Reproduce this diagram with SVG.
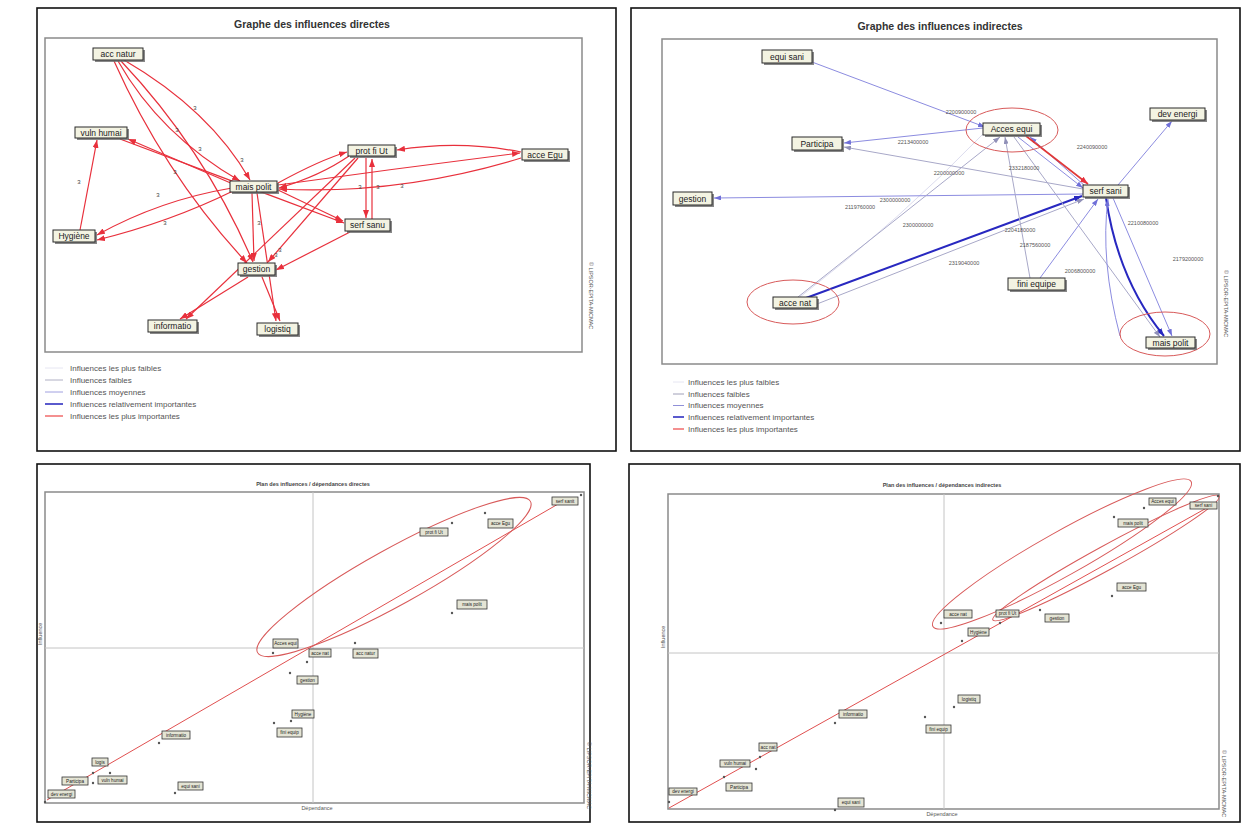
<svg xmlns="http://www.w3.org/2000/svg" width="1245" height="828" viewBox="0 0 1245 828">
<style>
.panel{fill:#fff;stroke:#111;stroke-width:1.6}
.frame{fill:none;stroke:#8a8a8a;stroke-width:1.5}
.title{font-family:"Liberation Sans",Arial,sans-serif;font-weight:bold;font-size:10.5px;fill:#333;text-anchor:middle}
.stitle{font-family:"Liberation Sans",Arial,sans-serif;font-weight:bold;font-size:5.5px;fill:#444;text-anchor:middle}
.nshadow{fill:#6a6a6a;opacity:.8}
.nbox{fill:#f3f3e2;stroke:#2a2a2a;stroke-width:1}
.ntext{font-family:"Liberation Sans",Arial,sans-serif;font-size:8.5px;fill:#222;text-anchor:middle;dominant-baseline:central}
.sbox{fill:#e4e4d4;stroke:#333;stroke-width:.8}
.stext{font-family:"Liberation Sans",Arial,sans-serif;font-size:4.6px;fill:#222;text-anchor:middle;dominant-baseline:central}
.leg{font-family:"Liberation Sans",Arial,sans-serif;font-size:8px;fill:#555;dominant-baseline:central}
.elab{font-family:"Liberation Sans",Arial,sans-serif;font-size:6px;fill:#444;text-anchor:middle;dominant-baseline:central}
.nlab{font-family:"Liberation Sans",Arial,sans-serif;font-size:5.5px;fill:#555;text-anchor:middle;dominant-baseline:central}
.vtext{font-family:"Liberation Sans",Arial,sans-serif;font-size:5.5px;fill:#555}
.red{fill:none;stroke:#e8303c;stroke-width:1.2;marker-end:url(#mRed)}
.b1{fill:none;stroke:#dcdcee;stroke-width:1}
.b2{fill:none;stroke:#a8a8c8;stroke-width:1;marker-end:url(#mGray)}
.b3{fill:none;stroke:#8c8ce0;stroke-width:1;marker-end:url(#mPur)}
.b4{fill:none;stroke:#2828c0;stroke-width:2;marker-end:url(#mBlue)}
.b5{fill:none;stroke:#e03838;stroke-width:1.6;marker-end:url(#mRed)}
.ell{fill:none;stroke:#d85a5a;stroke-width:1}
.cross{stroke:#c4c4c4;stroke-width:1}
.reg{stroke:#e05050;stroke-width:1;fill:none}
.pt{fill:#555}
</style>
<defs>
<marker id="mRed" markerWidth="8" markerHeight="6" refX="8" refY="3" orient="auto" markerUnits="userSpaceOnUse"><path d="M0,0 L8,3 L0,6 z" fill="#e8303c"/></marker>
<marker id="mBlue" markerWidth="8" markerHeight="6" refX="8" refY="3" orient="auto" markerUnits="userSpaceOnUse"><path d="M0,0 L8,3 L0,6 z" fill="#2828c0"/></marker>
<marker id="mPur" markerWidth="7" markerHeight="5" refX="7" refY="2.5" orient="auto" markerUnits="userSpaceOnUse"><path d="M0,0 L7,2.5 L0,5 z" fill="#7070d8"/></marker>
<marker id="mGray" markerWidth="7" markerHeight="5" refX="7" refY="2.5" orient="auto" markerUnits="userSpaceOnUse"><path d="M0,0 L7,2.5 L0,5 z" fill="#9090b8"/></marker>
</defs>

<!-- ============ PANEL 1 : direct graph ============ -->
<g id="panel-direct">
<rect class="panel" x="37" y="8" width="579" height="443"/>
<text class="title" x="312" y="28">Graphe des influences directes</text>
<rect class="frame" x="45" y="38" width="537" height="314"/>
<text class="vtext" transform="translate(589,262) rotate(90)">© LIPSOR-EPITA-MICMAC</text>
</g>

<g id="connectors-direct">
<path class="red" d="M118,61 Q160,135 240,181"/>
<path class="red" d="M124,60 Q210,110 250,180"/>
<path class="red" d="M114,61 Q165,175 247,263"/>
<path class="red" d="M121,61 Q205,150 253,262"/>
<path class="red" d="M233,184 L128,139"/>
<path class="red" d="M120,139 L344,223"/>
<path class="red" d="M80,230 L97,140"/>
<path class="red" d="M232,188 Q160,200 97,235"/>
<path class="red" d="M233,191 Q170,222 97,240"/>
<path class="red" d="M278,185 Q400,168 520,153"/>
<path class="red" d="M521,158 Q400,195 279,189"/>
<path class="red" d="M278,183 Q320,160 347,152"/>
<path class="red" d="M349,156 Q320,176 279,188"/>
<path class="red" d="M366,158 L366,218"/>
<path class="red" d="M372,219 L372,159"/>
<path class="red" d="M278,190 L343,221"/>
<path class="red" d="M252,193 L254,261"/>
<path class="red" d="M257,193 L276,321"/>
<path class="red" d="M262,277 L280,321"/>
<path class="red" d="M248,277 L180,319"/>
<path class="red" d="M355,158 L186,319"/>
<path class="red" d="M358,158 L268,262"/>
<path class="red" d="M350,232 L276,270"/>
<path class="red" d="M521,152 Q460,140 397,150"/>
<text class="elab" x="195" y="108">3</text>
<text class="elab" x="242" y="160">3</text>
<text class="elab" x="177" y="130">3</text>
<text class="elab" x="200" y="149">3</text>
<text class="elab" x="175" y="172">3</text>
<text class="elab" x="79" y="182">3</text>
<text class="elab" x="158" y="195">3</text>
<text class="elab" x="165" y="223">3</text>
<text class="elab" x="402" y="186">3</text>
<text class="elab" x="360" y="187">3</text>
<text class="elab" x="378" y="187">3</text>
<text class="elab" x="259" y="223">3</text>
<text class="elab" x="276" y="255">3</text>
<text class="elab" x="280" y="250">3</text>
</g>

<g id="n-acc-natur"><rect class="nshadow" x="95" y="50" width="50" height="12"/><rect class="nbox" x="93" y="48" width="50" height="12"/><text class="ntext" x="118" y="54">acc natur</text></g>
<g id="n-vuln-humai"><rect class="nshadow" x="77" y="129" width="52" height="11"/><rect class="nbox" x="75" y="127" width="52" height="11"/><text class="ntext" x="101" y="132.5">vuln humai</text></g>
<g id="n-mais-polit"><rect class="nshadow" x="232" y="183" width="47" height="11"/><rect class="nbox" x="230" y="181" width="47" height="11"/><text class="ntext" x="253.5" y="186.5">mais polit</text></g>
<g id="n-hygiene"><rect class="nshadow" x="55" y="232" width="42" height="12"/><rect class="nbox" x="53" y="230" width="42" height="12"/><text class="ntext" x="74" y="236">Hygiène</text></g>
<g id="n-gestion"><rect class="nshadow" x="240" y="265" width="37" height="12"/><rect class="nbox" x="238" y="263" width="37" height="12"/><text class="ntext" x="256.5" y="269">gestion</text></g>
<g id="n-informatio"><rect class="nshadow" x="150" y="322" width="49" height="12"/><rect class="nbox" x="148" y="320" width="49" height="12"/><text class="ntext" x="172.5" y="326">informatio</text></g>
<g id="n-logistiq"><rect class="nshadow" x="259" y="325" width="41" height="12"/><rect class="nbox" x="257" y="323" width="41" height="12"/><text class="ntext" x="277.5" y="329">logistiq</text></g>
<g id="n-prot-fi"><rect class="nshadow" x="350" y="147" width="47" height="11"/><rect class="nbox" x="348" y="145" width="47" height="11"/><text class="ntext" x="371.5" y="150.5">prot fi Ut</text></g>
<g id="n-acce-egu"><rect class="nshadow" x="524" y="151" width="46" height="11"/><rect class="nbox" x="522" y="149" width="46" height="11"/><text class="ntext" x="545" y="154.5">acce Egu</text></g>
<g id="n-serf-sanu"><rect class="nshadow" x="347" y="221" width="45" height="12"/><rect class="nbox" x="345" y="219" width="45" height="12"/><text class="ntext" x="367.5" y="225">serf sanu</text></g>

<g id="legend-direct">
<line x1="45" y1="368" x2="63" y2="368" stroke="#e6e6f2" stroke-width="1"/>
<line x1="45" y1="380" x2="63" y2="380" stroke="#b0b0c4" stroke-width="1"/>
<line x1="45" y1="392" x2="63" y2="392" stroke="#a0a0e0" stroke-width="1"/>
<line x1="45" y1="404" x2="63" y2="404" stroke="#3030c0" stroke-width="1.6"/>
<line x1="45" y1="416" x2="63" y2="416" stroke="#f06060" stroke-width="1.4"/>
<text class="leg" x="70" y="368">Influences les plus faibles</text>
<text class="leg" x="70" y="380">Influences faibles</text>
<text class="leg" x="70" y="392">Influences moyennes</text>
<text class="leg" x="70" y="404">Influences relativement importantes</text>
<text class="leg" x="70" y="416">Influences les plus importantes</text>
</g>

<!-- ============ PANEL 2 : indirect graph ============ -->
<g id="panel-indirect">
<rect class="panel" x="631" y="8" width="609" height="443"/>
<text class="title" x="940" y="30">Graphe des influences indirectes</text>
<rect class="frame" x="662" y="39" width="555" height="325"/>
<text class="vtext" transform="translate(1224,270) rotate(90)">© LIPSOR-EPITA-MICMAC</text>
</g>

<g id="connectors-indirect">
<path class="b1" d="M800,297 Q900,220 985,132"/>
<path class="b3" d="M812,62 L985,127"/>
<path class="b3" d="M983,128 L844,143"/>
<path class="b2" d="M1083,189 L844,147"/>
<path class="b3" d="M1083,194 L714,198"/>
<path class="b4" d="M806,298 Q950,245 1082,196"/>
<path class="b2" d="M798,297 L1000,137"/>
<path class="b2" d="M817,304 L1084,199"/>
<path class="b3" d="M1085,186 L1030,137"/>
<path class="b5" d="M1026,136 L1088,184"/>
<path class="b3" d="M1018,137 L1083,188"/>
<path class="b4" d="M1106,198 Q1118,280 1164,336"/>
<path class="b3" d="M1113,198 L1172,336"/>
<path class="b2" d="M1014,137 L1160,337"/>
<path class="b3" d="M1118,185 L1172,121"/>
<path class="b3" d="M1040,278 L1098,199"/>
<path class="b2" d="M1030,278 L1005,137"/>
<path class="b3" d="M1120,336 Q1100,260 1108,199"/>
<text class="nlab" x="961" y="112">2200900000</text>
<text class="nlab" x="913" y="142">2213400000</text>
<text class="nlab" x="949" y="173">2200000000</text>
<text class="nlab" x="1092" y="147">2240090000</text>
<text class="nlab" x="1024" y="168">2332180000</text>
<text class="nlab" x="895" y="200">2300000000</text>
<text class="nlab" x="860" y="207">2119760000</text>
<text class="nlab" x="918" y="225">2300000000</text>
<text class="nlab" x="1020" y="230">2204180000</text>
<text class="nlab" x="1035" y="245">2187560000</text>
<text class="nlab" x="964" y="263">2319040000</text>
<text class="nlab" x="1080" y="271">2006800000</text>
<text class="nlab" x="1143" y="223">2210080000</text>
<text class="nlab" x="1188" y="259">2179200000</text>
<ellipse class="ell" cx="1012" cy="130" rx="46" ry="22"/>
<ellipse class="ell" cx="793" cy="302" rx="46" ry="22"/>
<ellipse class="ell" cx="1165" cy="334" rx="45" ry="22"/>
</g>

<g id="n-equi-sani"><rect class="nshadow" x="764" y="52" width="50" height="13"/><rect class="nbox" x="762" y="50" width="50" height="13"/><text class="ntext" x="787" y="56.5">equi sani</text></g>
<g id="n-participa"><rect class="nshadow" x="794" y="139" width="50" height="13"/><rect class="nbox" x="792" y="137" width="50" height="13"/><text class="ntext" x="817" y="143.5">Participa</text></g>
<g id="n-gestion2"><rect class="nshadow" x="675" y="194" width="39" height="13"/><rect class="nbox" x="673" y="192" width="39" height="13"/><text class="ntext" x="692.5" y="198.5">gestion</text></g>
<g id="n-acces-equi"><rect class="nshadow" x="985" y="125" width="57" height="12"/><rect class="nbox" x="983" y="123" width="57" height="12"/><text class="ntext" x="1011.5" y="129">Acces equi</text></g>
<g id="n-dev-energi"><rect class="nshadow" x="1152" y="110" width="55" height="12"/><rect class="nbox" x="1150" y="108" width="55" height="12"/><text class="ntext" x="1177.5" y="114">dev energi</text></g>
<g id="n-serf-sani"><rect class="nshadow" x="1085" y="187" width="45" height="12"/><rect class="nbox" x="1083" y="185" width="45" height="12"/><text class="ntext" x="1105.5" y="191">serf sani</text></g>
<g id="n-acce-nat"><rect class="nshadow" x="775" y="299" width="44" height="11"/><rect class="nbox" x="773" y="297" width="44" height="11"/><text class="ntext" x="795" y="302.5">acce nat</text></g>
<g id="n-fini-equipe"><rect class="nshadow" x="1010" y="280" width="57" height="12"/><rect class="nbox" x="1008" y="278" width="57" height="12"/><text class="ntext" x="1036.5" y="284">fini equipe</text></g>
<g id="n-mais-polit2"><rect class="nshadow" x="1148" y="339" width="49" height="11"/><rect class="nbox" x="1146" y="337" width="49" height="11"/><text class="ntext" x="1170.5" y="342.5">mais polit</text></g>

<g id="legend-indirect">
<line x1="673" y1="382" x2="684" y2="382" stroke="#e6e6f2" stroke-width="1"/>
<line x1="673" y1="394" x2="684" y2="394" stroke="#a0a0b8" stroke-width="1"/>
<line x1="673" y1="405.5" x2="684" y2="405.5" stroke="#9090d8" stroke-width="1"/>
<line x1="673" y1="417" x2="684" y2="417" stroke="#3030c0" stroke-width="1.6"/>
<line x1="673" y1="429" x2="684" y2="429" stroke="#f06060" stroke-width="1.4"/>
<text class="leg" x="688" y="382">Influences les plus faibles</text>
<text class="leg" x="688" y="394">Influences faibles</text>
<text class="leg" x="688" y="405.5">Influences moyennes</text>
<text class="leg" x="688" y="417">Influences relativement importantes</text>
<text class="leg" x="688" y="429">Influences les plus importantes</text>
</g>

<!-- ============ PANEL 3 : direct map ============ -->
<g id="panel-map-direct">
<rect class="panel" x="37" y="464" width="553" height="358"/>
<text class="stitle" x="313" y="486">Plan des influences / dépendances directes</text>
<rect class="frame" x="45" y="492" width="539" height="311"/>
<line class="cross" x1="313" y1="492" x2="313" y2="803"/>
<line class="cross" x1="45" y1="648" x2="584" y2="648"/>
<text class="vtext" transform="translate(42,645) rotate(-90)" font-size="4px">Influence</text>
<text class="vtext" x="317" y="810" text-anchor="middle" font-size="4px">Dépendance</text>
<text class="vtext" transform="translate(587,742) rotate(90)" font-size="4.2px">© LIPSOR-EPITA-MICMAC</text>
<line class="reg" x1="47" y1="800" x2="565" y2="500"/>
<ellipse class="ell" cx="394" cy="577" rx="156" ry="28" transform="rotate(-29 394 577)"/>
</g>
<g id="points-map-direct">
<circle class="pt" cx="273" cy="653" r="1.2"/><rect class="sbox" x="273" y="639" width="25" height="9"/><text class="stext" x="285.5" y="643.5">Acces equi</text>
<circle class="pt" cx="307" cy="662" r="1.2"/><rect class="sbox" x="309" y="649" width="22" height="8"/><text class="stext" x="320" y="653">acce nat</text>
<circle class="pt" cx="290" cy="673" r="1.2"/><rect class="sbox" x="297" y="676" width="21" height="8"/><text class="stext" x="307.5" y="680">gestion</text>
<circle class="pt" cx="291" cy="721" r="1.2"/><rect class="sbox" x="292" y="710" width="22" height="8"/><text class="stext" x="303" y="714">Hygiène</text>
<circle class="pt" cx="274" cy="723" r="1.2"/><rect class="sbox" x="277" y="728" width="25" height="9"/><text class="stext" x="289.5" y="732.5">fini equip</text>
<circle class="pt" cx="159" cy="743" r="1.2"/><rect class="sbox" x="162" y="731" width="28" height="8"/><text class="stext" x="176" y="735">informatio</text>
<circle class="pt" cx="93" cy="773" r="1.2"/><rect class="sbox" x="92" y="758" width="16" height="8"/><text class="stext" x="100" y="762">logis</text>
<circle class="pt" cx="110" cy="773" r="1.2"/><rect class="sbox" x="98" y="776" width="29" height="8"/><text class="stext" x="112.5" y="780">vuln humai</text>
<circle class="pt" cx="93" cy="783" r="1.2"/><rect class="sbox" x="62" y="777" width="26" height="8"/><text class="stext" x="75" y="781">Participa</text>
<circle class="pt" cx="45" cy="802" r="1.2"/><rect class="sbox" x="48" y="790" width="27" height="8"/><text class="stext" x="61.5" y="794">dev energi</text>
<circle class="pt" cx="175" cy="793" r="1.2"/><rect class="sbox" x="178" y="782" width="25" height="8"/><text class="stext" x="190.5" y="786">equi sani</text>
<circle class="pt" cx="452" cy="523" r="1.2"/><rect class="sbox" x="420" y="528" width="28" height="8"/><text class="stext" x="434" y="532">prot fi Ut</text>
<circle class="pt" cx="485" cy="513" r="1.2"/><rect class="sbox" x="488" y="519" width="25" height="9"/><text class="stext" x="500.5" y="523.5">acce Egu</text>
<circle class="pt" cx="581" cy="495" r="1.2"/><rect class="sbox" x="552" y="497" width="26" height="8"/><text class="stext" x="565" y="501">serf sanit</text>
<circle class="pt" cx="452" cy="613" r="1.2"/><rect class="sbox" x="457" y="600" width="30" height="9"/><text class="stext" x="472" y="604.5">mais polit</text>
<circle class="pt" cx="355" cy="643" r="1.2"/><rect class="sbox" x="353" y="649" width="25" height="9"/><text class="stext" x="365.5" y="653.5">acc natur</text>
</g>

<!-- ============ PANEL 4 : indirect map ============ -->
<g id="panel-map-indirect">
<rect class="panel" x="629" y="464" width="611" height="358"/>
<text class="stitle" x="942" y="487">Plan des influences / dépendances indirectes</text>
<rect class="frame" x="668" y="494" width="551" height="315"/>
<line class="cross" x1="944" y1="494" x2="944" y2="809"/>
<line class="cross" x1="668" y1="653" x2="1219" y2="653"/>
<text class="vtext" transform="translate(665,648) rotate(-90)" font-size="4px">Influence</text>
<text class="vtext" x="942" y="816" text-anchor="middle" font-size="4px">Dépendance</text>
<text class="vtext" transform="translate(1222,750) rotate(90)" font-size="4.2px">© LIPSOR-EPITA-MICMAC</text>
<line class="reg" x1="669" y1="808" x2="1212" y2="505"/>
<ellipse class="ell" cx="1062" cy="554" rx="148" ry="22" transform="rotate(-29.3 1062 554)"/>
<ellipse class="ell" cx="1106" cy="558" rx="129" ry="12" transform="rotate(-28.7 1106 558)"/>
</g>
<g id="points-map-indirect">
<circle class="pt" cx="1144" cy="508" r="1.2"/><rect class="sbox" x="1149" y="498" width="27" height="7"/><text class="stext" x="1162.5" y="501.5">Acces equi</text>
<circle class="pt" cx="1218" cy="496" r="1.2"/><rect class="sbox" x="1190" y="502" width="27" height="7"/><text class="stext" x="1203.5" y="505.5">serf sani</text>
<circle class="pt" cx="1114" cy="517" r="1.2"/><rect class="sbox" x="1118" y="519" width="30" height="8"/><text class="stext" x="1133" y="523">mais polit</text>
<circle class="pt" cx="1112" cy="596" r="1.2"/><rect class="sbox" x="1117" y="583" width="29" height="8"/><text class="stext" x="1131.5" y="587">acce Egu</text>
<circle class="pt" cx="941" cy="623" r="1.2"/><rect class="sbox" x="944" y="610" width="28" height="8"/><text class="stext" x="958" y="614">acce nat</text>
<circle class="pt" cx="1000" cy="623" r="1.2"/><rect class="sbox" x="996" y="610" width="23" height="7"/><text class="stext" x="1007.5" y="613.5">prot fi Ut</text>
<circle class="pt" cx="1040" cy="610" r="1.2"/><rect class="sbox" x="1045" y="614" width="24" height="8"/><text class="stext" x="1057" y="618">gestion</text>
<circle class="pt" cx="962" cy="641" r="1.2"/><rect class="sbox" x="968" y="628" width="21" height="8"/><text class="stext" x="978.5" y="632">Hygiène</text>
<circle class="pt" cx="954" cy="707" r="1.2"/><rect class="sbox" x="958" y="695" width="22" height="8"/><text class="stext" x="969" y="699">logistiq</text>
<circle class="pt" cx="925" cy="717" r="1.2"/><rect class="sbox" x="926" y="725" width="25" height="8"/><text class="stext" x="938.5" y="729">fini equip</text>
<circle class="pt" cx="835" cy="723" r="1.2"/><rect class="sbox" x="839" y="710" width="28" height="8"/><text class="stext" x="853" y="714">informatio</text>
<circle class="pt" cx="760" cy="757" r="1.2"/><rect class="sbox" x="759" y="743" width="18" height="8"/><text class="stext" x="768" y="747">acc nat</text>
<circle class="pt" cx="724" cy="777" r="1.2"/><rect class="sbox" x="720" y="760" width="30" height="7"/><text class="stext" x="735" y="763.5">vuln humai</text>
<circle class="pt" cx="756" cy="769" r="1.2"/><rect class="sbox" x="726" y="783" width="26" height="8"/><text class="stext" x="739" y="787">Participa</text>
<circle class="pt" cx="669" cy="802" r="1.2"/><rect class="sbox" x="669" y="788" width="28" height="7"/><text class="stext" x="683" y="791.5">dev energi</text>
<circle class="pt" cx="835" cy="810" r="1.2"/><rect class="sbox" x="838" y="798" width="26" height="9"/><text class="stext" x="851" y="802.5">equi sani</text>
</g>
</svg>
